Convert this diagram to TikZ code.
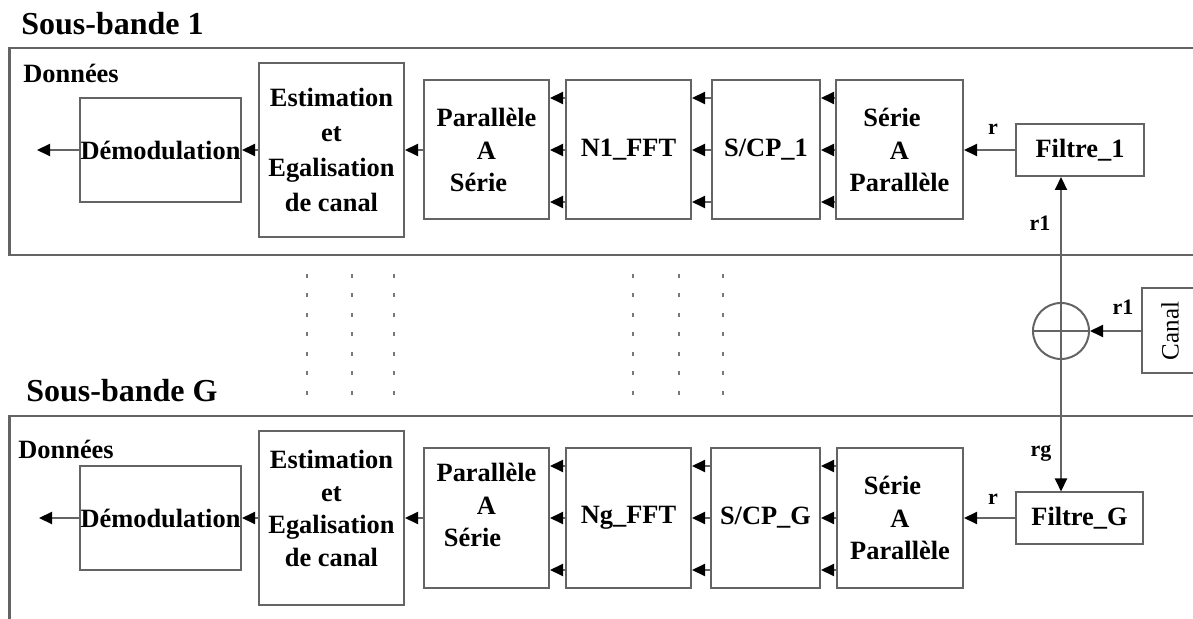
\documentclass[tikz,border=0pt]{standalone}
\usepackage{fontspec}
\setmainfont{Liberation Serif}
\usetikzlibrary{arrows.meta,calc}
\definecolor{ln}{RGB}{100,100,100}
\definecolor{dt}{RGB}{120,120,120}
\begin{document}
\begin{tikzpicture}[x=0.5pt,y=-0.5pt,
  box/.style={draw=ln,line width=1pt,rectangle,inner sep=0pt,align=center,text=black,
    font=\fontsize{13.2}{16.25}\selectfont\bfseries},
  bare/.style={inner sep=0pt,align=center,text=black,font=\fontsize{13.2}{16.25}\selectfont\bfseries},
  frame/.style={draw=ln,line width=1.1pt},
  arr/.style={draw=ln,line width=1pt,-{Triangle[length=6.5pt,width=6pt,black]}},
  lbl/.style={font=\fontsize{11}{12}\selectfont\bfseries,inner sep=0pt},
  ttl/.style={font=\fontsize{16}{18}\selectfont\bfseries,anchor=west,inner sep=0pt},
  don/.style={font=\fontsize{13.2}{15}\selectfont\bfseries,anchor=west,inner sep=0pt},
  dotcol/.style={draw=dt,line width=1.3pt,dash pattern=on 2pt off 7.75pt}]
\useasboundingbox (0,0) rectangle (1193,619);
\clip (0,0) rectangle (1193,619);

% frames
\draw[frame] (9.5,48) rectangle (1300,255);
\draw[frame] (9.5,416) rectangle (1300,700);

% titles
\node[ttl] (t1) at (21,24) {Sous-bande 1};
\node[ttl] (tG) at (26,391) {Sous-bande G};
\node[don] (d1) at (23,73) {Données};
\node[don] (dG) at (18,449) {Données};

% ---------- top row ----------
\node[box,minimum width=80.5pt,minimum height=52pt] (dem1) at (160.5,150) {Démodulation};
\node[box,minimum width=72.5pt,minimum height=87pt,font=\fontsize{13.2}{17.6}\selectfont\bfseries] (est1) at (331.5,150) {Estimation\\et\\Egalisation\\de canal};
\node[box,minimum width=62.5pt,minimum height=69.5pt] (ps1) at (486.5,150) {Parallèle\\A\hspace*{7pt}\\Série\hspace*{8pt}};
\node[box,minimum width=62.5pt,minimum height=69.5pt] (fft1) at (628.5,150) {N1\_FFT};
\node[box,minimum width=54pt,minimum height=69.5pt] (scp1) at (766,150) {S/CP\_1};
\node[box,minimum width=63.5pt,minimum height=69.5pt] (sp1) at (899.5,150) {Série\hspace*{7.5pt}\\A\hspace*{16pt}\\Parallèle};
\node[box,minimum width=64pt,minimum height=26pt] (fil1) at (1080,150) {Filtre\_1};
\coordinate (out1) at (37,150);

\draw[arr] (dem1.west) -- (out1);
\draw[arr] (est1.west) -- (dem1.east);
\draw[arr] (ps1.west) -- (est1.east);
\foreach \a/\b in {fft1/ps1,scp1/fft1,sp1/scp1}
  \foreach \dy in {-52,0,52}
    \draw[arr] ($(\a.west)+(0,\dy)$) -- ($(\b.east)+(0,\dy)$);
\draw[arr] (fil1.west) -- (sp1.east);
\node[lbl] (r1a) at (993,129) {r};

% ---------- bottom row ----------
\node[box,minimum width=80.5pt,minimum height=52pt] (demG) at (160.5,518) {Démodulation};
\node[box,minimum width=72.5pt,minimum height=86.5pt] (estG) at (331.5,518) {};
\node[bare,font=\fontsize{13.2}{16.2}\selectfont\bfseries] (estGt) at (331.5,508.5) {Estimation\\et\hspace*{10pt}\\Egalisation\\de canal};
\node[box,minimum width=62.5pt,minimum height=69.5pt] (psG) at (486.5,518) {};
\node[bare] (psGt) at (486.5,505) {Parallèle\\A\hspace*{7pt}\\Série\hspace*{14pt}};
\node[box,minimum width=62.5pt,minimum height=69.5pt] (fftG) at (628.5,518) {Ng\_FFT};
\node[box,minimum width=54.5pt,minimum height=69.5pt] (scpG) at (765.5,518) {S/CP\_G};
\node[box,minimum width=63pt,minimum height=69.5pt] (spG) at (900,518) {Série\hspace*{7.5pt}\\A\hspace*{10pt}\\Parallèle};
\node[box,minimum width=63.5pt,minimum height=25.5pt] (filG) at (1079.5,518) {Filtre\_G};
\coordinate (outG) at (39,518);

\draw[arr] (demG.west) -- (outG);
\draw[arr] (estG.west) -- (demG.east);
\draw[arr] (psG.west) -- (estG.east);
\foreach \a/\b in {fftG/psG,scpG/fftG,spG/scpG}
  \foreach \dy in {-52,0,52}
    \draw[arr] ($(\a.west)+(0,\dy)$) -- ($(\b.east)+(0,\dy)$);
\draw[arr] (filG.west) -- (spG.east);
\node[lbl] (rGa) at (993,499) {r};

% ---------- channel and summation ----------
\node[draw=ln,line width=1pt,circle,minimum size=28pt,inner sep=0pt] (sum) at (1061,331) {};
\draw[draw=ln,line width=1pt] (sum.west) -- (sum.east);
\draw[arr] (sum.center) -- (sum |- fil1.south);
\draw[arr] (sum.center) -- (sum |- filG.north);
\node[draw=ln,line width=1pt,minimum width=28pt,minimum height=42.5pt,inner sep=0pt,
  font=\fontsize{12.5}{14}\selectfont] (canal) at (1170,331) {\rotatebox{90}{Canal}};
\draw[arr] (canal.west) -- (sum.east);
\node[lbl] (lr1) at (1040,223) {r1};
\node[lbl] (lr1b) at (1123,307) {r1};
\node[lbl] (lrg) at (1041,453) {rg};

% ---------- dotted continuation ----------
\foreach \x in {307,352,394,633,679,723}
  \draw[dotcol] (\x,274) -- (\x,397);
\end{tikzpicture}
\end{document}
